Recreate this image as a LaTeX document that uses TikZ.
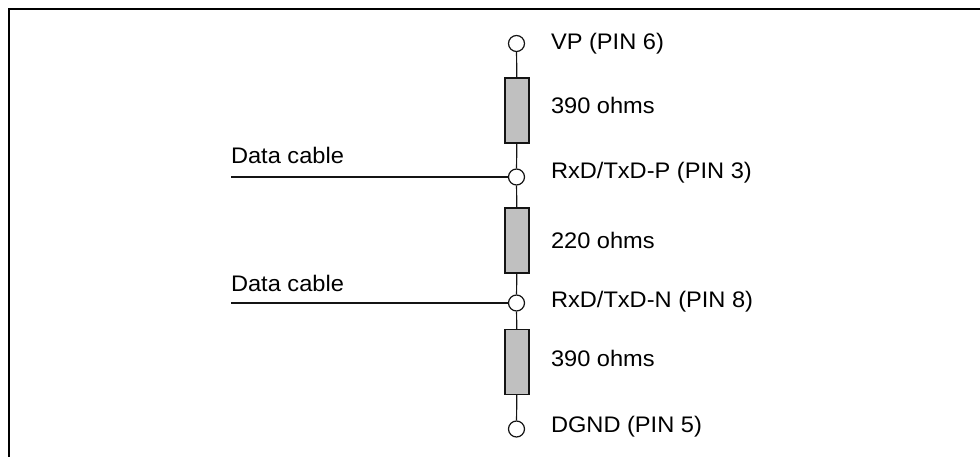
\documentclass[tikz,border=0pt]{standalone}
\usepackage{fontspec}
\setmainfont[FakeStretch=1.05]{Liberation Sans}
\definecolor{resgray}{RGB}{192,192,192}
\definecolor{ink}{RGB}{20,20,20}
\tikzset{
  pin/.style={circle,draw=ink,fill=white,line width=1.2pt,inner sep=0pt,minimum size=16pt},
  res/.style={rectangle,draw=ink,fill=resgray,line width=1.3pt,inner sep=0pt,minimum width=24pt,minimum height=65pt},
  wire/.style={draw=ink,line width=1.2pt},
  lbl/.style={anchor=base west,inner sep=0pt,outer sep=0pt,font=\fontsize{22.5}{26}\selectfont,text=black},
  frame/.style={draw=black,line width=2pt}
}
\begin{document}
\begin{tikzpicture}[x=1pt,y=-1pt]
\useasboundingbox (0,0) rectangle (980,457);
\coordinate (fb) at (9,457);
\coordinate (fc) at (9,9);
\coordinate (fr) at (980,9);
\draw[frame,line join=miter] (fb) -- (fc) -- (fr);
\coordinate (d1) at (231,177);
\coordinate (d2) at (231,303);
\node[res] (r1) at (517,110.5) {};
\node[res] (r2) at (517,240.5) {};
\node[res] (r3) at (517,362) {};
\node[pin] (p1) at (516.5,43.5) {};
\node[pin] (p2) at (516.5,177) {};
\node[pin] (p3) at (516.5,303) {};
\node[pin] (p4) at (516.5,429) {};
\draw[wire] (p1) -- (r1);
\draw[wire] (r1) -- (p2);
\draw[wire] (p2) -- (r2);
\draw[wire] (r2) -- (p3);
\draw[wire] (p3) -- (r3);
\draw[wire] (r3) -- (p4);
\draw[wire] (d1) -- (p2);
\draw[wire] (d2) -- (p3);
\node[lbl] (t1) at (551,50) {VP (PIN 6)};
\node[lbl] (t2) at (551,114) {390 ohms};
\node[lbl] (t3) at (551,178.3) {RxD/TxD-P (PIN 3)};
\node[lbl] (t4) at (551,249) {220 ohms};
\node[lbl] (t5) at (551,307.7) {RxD/TxD-N (PIN 8)};
\node[lbl] (t6) at (551,366.7) {390 ohms};
\node[lbl] (t7) at (551,432.7) {DGND (PIN 5)};
\node[lbl] (t8) at (231,164) {Data cable};
\node[lbl] (t9) at (231,291) {Data cable};
\end{tikzpicture}
\end{document}
